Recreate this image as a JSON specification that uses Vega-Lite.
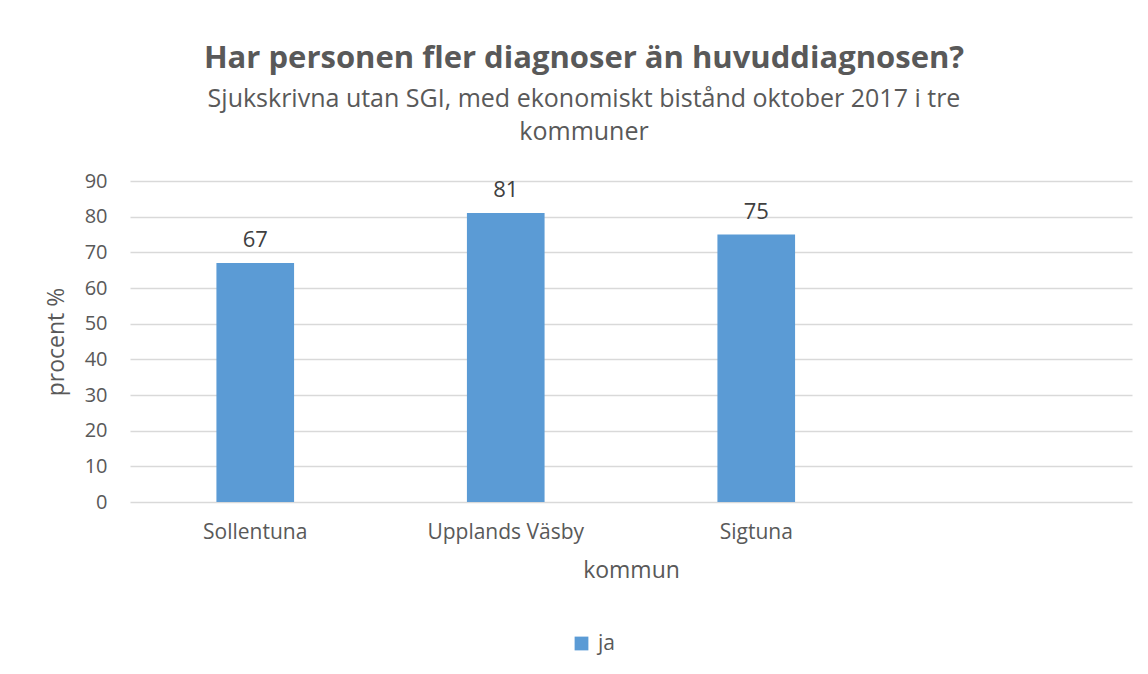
{
  "$schema": "https://vega.github.io/schema/vega-lite/v6.json",
  "autosize": {"type": "none"},
  "width": 1002,
  "height": 321,
  "padding": {"left": 130, "top": 181, "right": 16, "bottom": 172},
  "background": "white",
  "title": {
    "text": "Har personen fler diagnoser än huvuddiagnosen?",
    "subtitle": ["Sjukskrivna utan SGI, med ekonomiskt bistånd oktober 2017 i tre", "kommuner"],
    "anchor": "middle",
    "frame": "group",
    "dx": -47,
    "offset": 25,
    "font": "Open Sans",
    "fontSize": 31,
    "fontWeight": "bold",
    "color": "#595959",
    "subtitleFont": "Open Sans",
    "subtitleFontSize": 25,
    "subtitleColor": "#595959",
    "subtitleLineHeight": 33,
    "subtitlePadding": 12
  },
  "data": {
    "values": [
      {"kommun": "Sollentuna", "procent": 67, "serie": "ja"},
      {"kommun": "Upplands Väsby", "procent": 81, "serie": "ja"},
      {"kommun": "Sigtuna", "procent": 75, "serie": "ja"}
    ]
  },
  "config": {
    "view": {"stroke": null},
    "font": "Open Sans"
  },
  "encoding": {
    "x": {
      "field": "kommun",
      "type": "nominal",
      "sort": null,
      "scale": {"domain": ["Sollentuna", "Upplands Väsby", "Sigtuna", " "], "paddingInner": 0.69, "paddingOuter": 0.345},
      "axis": {
        "title": "kommun",
        "labelAngle": 0,
        "labelFont": "Open Sans",
        "labelFontSize": 21,
        "labelColor": "#595959",
        "labelPadding": 19,
        "ticks": false,
        "domain": false,
        "titleFont": "Open Sans",
        "titleFontSize": 23,
        "titleFontWeight": "normal",
        "titleColor": "#595959",
        "titlePadding": 17
      }
    },
    "y": {
      "field": "procent",
      "type": "quantitative",
      "scale": {"domain": [0, 90], "nice": false},
      "axis": {
        "title": "procent %",
        "values": [0, 10, 20, 30, 40, 50, 60, 70, 80, 90],
        "labelFont": "Open Sans",
        "labelFontSize": 20,
        "labelColor": "#595959",
        "labelPadding": 23,
        "ticks": false,
        "domain": false,
        "grid": true,
        "gridColor": "#d9d9d9",
        "gridWidth": 1.5,
        "titleFont": "Open Sans",
        "titleFontSize": 23,
        "titleFontWeight": "normal",
        "titleColor": "#595959",
        "titlePadding": 16
      }
    }
  },
  "layer": [
    {
      "mark": {"type": "bar"},
      "encoding": {
        "color": {
          "field": "serie",
          "type": "nominal",
          "scale": {"range": ["#5B9BD5"]},
          "legend": {
            "title": null,
            "orient": "none",
            "legendX": 441,
            "legendY": 452,
            "symbolType": "square",
            "symbolSize": 190,
            "symbolStrokeWidth": 0,
            "labelFont": "Open Sans",
            "labelFontSize": 21,
            "labelColor": "#595959",
            "labelOffset": 6
          }
        }
      }
    },
    {
      "mark": {"type": "text", "baseline": "alphabetic", "dy": -16, "font": "Open Sans", "fontSize": 22, "color": "#404040"},
      "encoding": {
        "text": {"field": "procent", "type": "quantitative"}
      }
    }
  ]
}
